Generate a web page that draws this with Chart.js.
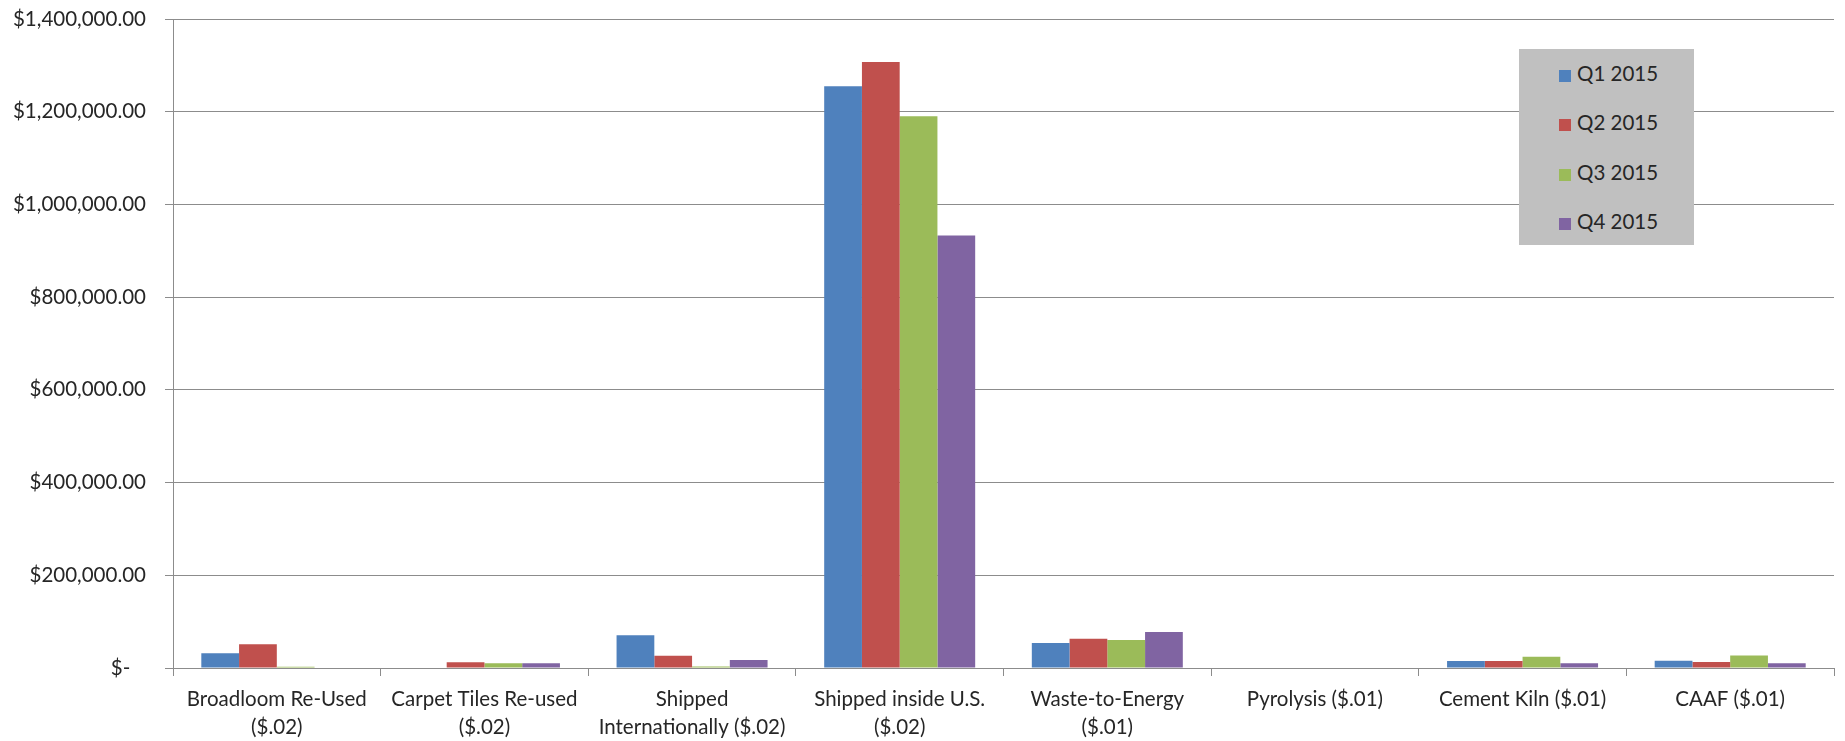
<!DOCTYPE html>
<html>
<head>
<meta charset="utf-8">
<script src="https://cdn.jsdelivr.net/npm/chart.js@4/dist/chart.umd.min.js"></script>
<style>
  body { margin: 0; background: #fff; }
  #wrap { position: relative; width: 1845px; height: 741px; }
  #legend {
    position: absolute; left: 1519px; top: 49px; width: 175px; height: 196px;
    background: #c0c0c0; font-family: Lato, sans-serif; font-size: 20.5px; color: #262626;
  }
  .item { position: absolute; left: 40px; height: 24px; line-height: 24px; white-space: nowrap; }
  .item span.box { display: inline-block; width: 12px; height: 12px; margin-right: 6px; vertical-align: -1px; }
</style>
</head>
<body>
<div id="wrap">
  <canvas id="myChart" width="1845" height="741"></canvas>
  <div id="legend"></div>
</div>
<script>
// Categories (multi-line where the axis label wraps)
var categories = [
  ["Broadloom Re-Used", "($.02)"],
  ["Carpet Tiles Re-used", "($.02)"],
  ["Shipped", "Internationally ($.02)"],
  ["Shipped inside U.S.", "($.02)"],
  ["Waste-to-Energy", "($.01)"],
  "Pyrolysis ($.01)",
  "Cement Kiln ($.01)",
  "CAAF ($.01)",
];

var seriesNames = ["Q1 2015", "Q2 2015", "Q3 2015", "Q4 2015"];
var seriesColors = ["#4f81bd", "#c0504d", "#9bbb59", "#8064a2"];

var q1 = [31800, 0, 70400, 1255000, 54000, 0, 15100, 15800];
var q2 = [51300, 12300, 26500, 1307000, 63200, 0, 15100, 13000];
var q3 = [2900, 10100, 3000, 1190000, 60400, 0, 24400, 27200];
var q4 = [0, 10100, 17300, 933000, 77700, 0, 10000, 10000];

var yTicks = [0, 200000, 400000, 600000, 800000, 1000000, 1200000, 1400000];

var values = [q1, q2, q3, q4];
var gridColor = "#8c8c8c";
var textColor = "#262626";
var font = { family: "Lato, sans-serif", size: 20.5, lineHeight: 1.37 };

function money(v) {
  if (v === 0) return "$-   ";
  return "$" + v.toLocaleString("en-US", { minimumFractionDigits: 2, maximumFractionDigits: 2 });
}

var ctx = document.getElementById("myChart");
var myChart = new Chart(ctx, {
  type: "bar",
  data: {
    labels: categories,
    datasets: seriesNames.map(function (name, i) {
      return {
        label: name,
        data: values[i],
        backgroundColor: seriesColors[i],
        categoryPercentage: 4 / 5.5,
        barPercentage: 1,
      };
    }),
  },
  options: {
    responsive: false,
    animation: false,
    devicePixelRatio: 1,
    layout: { padding: { top: 19, right: 11, left: 0, bottom: 0 } },
    plugins: {
      legend: { display: false },
      tooltip: { enabled: false },
    },
    scales: {
      x: {
        grid: {
          offset: true,
          drawOnChartArea: false,
          drawTicks: true,
          tickLength: 8,
          color: gridColor,
        },
        border: { color: gridColor },
        ticks: {
          autoSkip: false,
          maxRotation: 0,
          minRotation: 0,
          padding: 9,
          color: textColor,
          font: font,
        },
        afterFit: function (scale) { scale.height = 73; },
      },
      y: {
        min: 0,
        max: 1400000,
        afterBuildTicks: function (scale) {
          scale.ticks = yTicks.map(function (v) { return { value: v }; });
        },
        grid: { color: gridColor, tickLength: 8 },
        border: { color: gridColor },
        ticks: {
          padding: 19,
          color: textColor,
          font: font,
          callback: function (v) { return money(v); },
        },
        afterFit: function (scale) {
          scale.width = 173;
          scale.paddingTop = 0;
          scale.paddingBottom = 0;
        },
      },
    },
  },
});

// Legend box inside the plot
var legend = document.getElementById("legend");
var itemTops = [12, 61, 111, 160];
seriesNames.forEach(function (name, i) {
  var item = document.createElement("div");
  item.className = "item";
  item.style.top = itemTops[i] + "px";
  var box = document.createElement("span");
  box.className = "box";
  box.style.background = seriesColors[i];
  item.appendChild(box);
  item.appendChild(document.createTextNode(name));
  legend.appendChild(item);
});
</script>
</body>
</html>
